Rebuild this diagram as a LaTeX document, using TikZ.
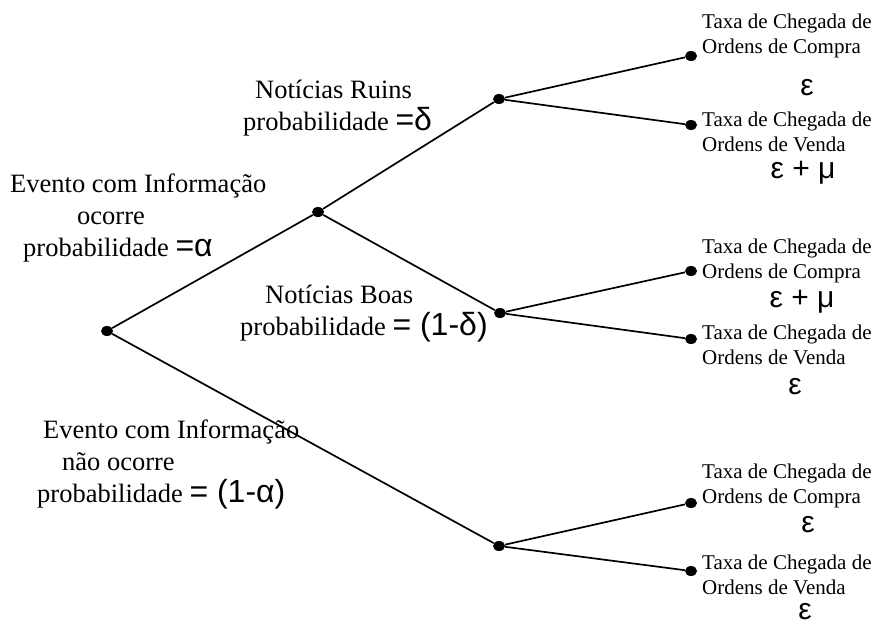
\documentclass[tikz,border=0pt]{standalone}
\usepackage{fontspec}
\setmainfont{Liberation Serif}
\newfontfamily\gregas{Liberation Sans}
\usetikzlibrary{shapes.geometric}

\tikzset{
  ponto/.style={ellipse, fill=black, inner sep=0pt, minimum width=12pt, minimum height=10pt},
  ramo/.style={line width=1.7pt},
  evento/.style={align=left, anchor=west, inner sep=0pt, font=\fontsize{26.5}{32}\selectfont},
  taxa/.style={align=left, anchor=west, inner sep=0pt, font=\fontsize{21}{25}\selectfont},
  valor/.style={inner sep=0pt, text height=0.55em, text depth=0.2em, font=\gregas\fontsize{30}{32}\selectfont}
}

\begin{document}
\begin{tikzpicture}[x=1pt, y=-1pt]
\useasboundingbox (0,0) rectangle (877,621);
\def\g#1{{\gregas\fontsize{32}{34}\selectfont #1}}

%pontos da arvore
\node[ponto] (raiz) at (107,331) {};
\node[ponto] (inf) at (318,212) {};
\node[ponto] (naoinf) at (499,546) {};
\node[ponto] (ruins) at (499,99) {};
\node[ponto] (boas) at (500,313) {};
\foreach \n/\y in {1/56, 2/125, 3/271, 4/339, 5/503, 6/571}
{ \node[ponto] (f\n) at (691,\y) {}; }

%ramos
\foreach \a/\b in {raiz/inf, raiz/naoinf, inf/ruins, inf/boas, ruins/f1, ruins/f2, boas/f3, boas/f4, naoinf/f5, naoinf/f6}
{ \draw[ramo] (\a) -- (\b); }

%probabilidades
\node[evento] (pinf) at (10,218) {Evento com Informação\\\hspace*{67pt}ocorre\\\hspace*{13pt}probabilidade \g{=α}};
\node[evento] (pruins) at (243,108) {\hspace*{12pt}Notícias Ruins\\probabilidade \g{=δ}};
\node[evento] (pboas) at (240,314) {\hspace*{25pt}Notícias Boas\\probabilidade \g{= (1-δ)}};
\node[evento] (pnaoinf) at (37,464) {\hspace*{6pt}Evento com Informação\\\hspace*{25pt}não ocorre\\probabilidade \g{= (1-α)}};

%taxas de chegada
\foreach \n/\y/\tipo in {1/36/Compra, 2/132/Venda, 3/261/Compra, 4/345/Venda, 5/486/Compra, 6/575/Venda}
{ \node[taxa] (t\n) at (702,\y) {Taxa de Chegada de\\Ordens de \tipo}; }
\foreach \n/\x/\y/\v in {1/807/94/ε, 2/803/177/ε + μ, 3/802/306/ε + μ, 4/795/393/ε, 5/808/531/ε, 6/805/618/ε}
{ \node[valor] (v\n) at (\x,\y) {\v}; }
\end{tikzpicture}
\end{document}
